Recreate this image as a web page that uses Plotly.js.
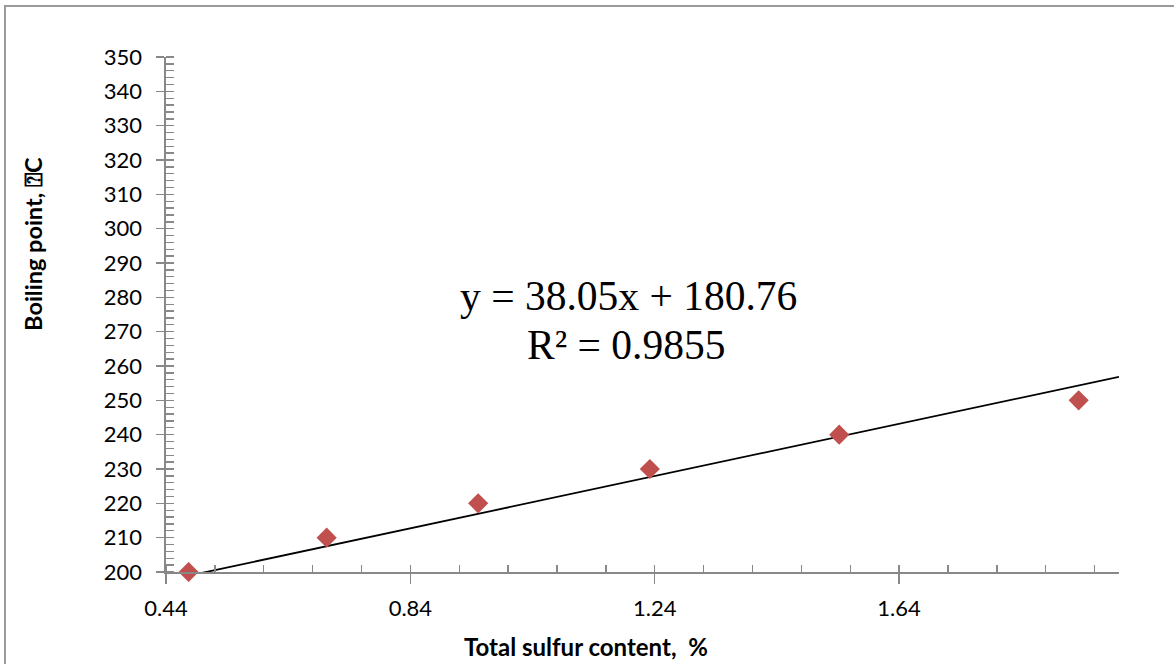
<!DOCTYPE html>
<html>
<head>
<meta charset="utf-8">
<script src="https://cdn.plot.ly/plotly-3.0.1.min.js"></script>
<style>
  html, body { margin: 0; padding: 0; overflow: hidden; background: #fff; }
  #wrap { position: relative; width: 1174px; height: 664px; overflow: hidden; }
  #chart { width: 1174px; height: 664px; }
  #frame { position: absolute; left: 4px; top: 5px; width: 1300px; height: 800px;
           border: 2px solid #9a9a9a; pointer-events: none; z-index: 10; }
</style>
</head>
<body>
<div id="wrap"><div id="chart"></div><div id="frame"></div></div>
<script>
// Data
const sulfurContent = [0.477, 0.703, 0.951, 1.232, 1.542, 1.934];
const boilingPoint = [200, 210, 220, 230, 240, 250];
const trendSlope = 38.05;
const trendIntercept = 180.76;
const xRange = [0.44, 2.0];
const yRange = [200, 350];
const equationText = 'y = 38.05x + 180.76';
const r2Text = 'R\u00B2 = 0.9855';
const xTitle = 'Total sulfur content,  %';
const yTitle = 'Boiling point, \u2370C';

const trendX = xRange.slice();
const trendY = trendX.map(v => trendSlope * v + trendIntercept);

const axisColor = '#888888';
const tickFont = { family: 'Lato, "Open Sans", sans-serif', size: 22, color: '#000' };

const traces = [
  { x: trendX, y: trendY, mode: 'lines', type: 'scatter',
    line: { color: '#000', width: 1.8 }, hoverinfo: 'skip', showlegend: false },
  { x: sulfurContent, y: boilingPoint, mode: 'markers', type: 'scatter',
    marker: { symbol: 'diamond', size: 15.5, color: '#C0504D' },
    cliponaxis: false, showlegend: false },
  { x: [], y: [], xaxis: 'x2', yaxis: 'y2', type: 'scatter', showlegend: false }
];

const layout = {
  width: 1174, height: 664,
  margin: { l: 166, r: 55, t: 57, b: 92 },
  paper_bgcolor: '#fff', plot_bgcolor: '#fff',
  showlegend: false,
  xaxis: {
    range: xRange, tick0: 0.44, dtick: 0.4, tickformat: '.2f',
    showgrid: false, zeroline: false,
    showline: true, linecolor: axisColor, linewidth: 1.6,
    ticks: 'outside', ticklen: 10, tickwidth: 1.4, tickcolor: axisColor,
    ticklabelstandoff: 6,
    tickfont: tickFont,
    minor: { ticks: 'inside', ticklen: 7, tickwidth: 1.4, tickcolor: axisColor, dtick: 0.08, tick0: 0.44, showgrid: false }
  },
  yaxis: {
    range: yRange, tick0: 200, dtick: 10,
    showgrid: false, zeroline: false,
    showline: true, linecolor: axisColor, linewidth: 1.6,
    ticks: 'outside', ticklen: 8, tickwidth: 1.4, tickcolor: axisColor,
    ticklabelstandoff: 10,
    tickfont: tickFont,
    minor: { ticks: 'inside', ticklen: 8, tickwidth: 1.4, tickcolor: axisColor, dtick: 2, showgrid: false }
  },
  xaxis2: {
    overlaying: 'x', anchor: 'y2', range: xRange, tick0: 0.44, dtick: 0.4,
    showgrid: false, zeroline: false, showline: false, showticklabels: false,
    ticks: 'inside', ticklen: 7, tickwidth: 1.4, tickcolor: axisColor, side: 'bottom'
  },
  yaxis2: {
    overlaying: 'y', anchor: 'x2', range: yRange, tick0: 200, dtick: 10,
    showgrid: false, zeroline: false, showline: false, showticklabels: false,
    ticks: 'inside', ticklen: 8, tickwidth: 1.4, tickcolor: axisColor, side: 'left'
  },
  annotations: [
    { text: equationText, xref: 'paper', yref: 'paper', x: 0.4858, y: 0.536,
      xanchor: 'center', yanchor: 'middle', showarrow: false,
      font: { family: '"Liberation Serif", "Times New Roman", serif', size: 41.5, color: '#000' } },
    { text: r2Text, xref: 'paper', yref: 'paper', x: 0.4827, y: 0.4408,
      xanchor: 'center', yanchor: 'middle', showarrow: false,
      font: { family: '"Liberation Serif", "Times New Roman", serif', size: 41.5, color: '#000' } },
    { text: '<b>' + xTitle + '</b>', xref: 'paper', yref: 'paper', x: 0.4407, y: -0.1437,
      xanchor: 'center', yanchor: 'middle', showarrow: false,
      font: { family: 'Lato, "Open Sans", sans-serif', size: 24, color: '#000' } },
    { text: '<b>' + yTitle + '</b>', xref: 'paper', yref: 'paper', x: -0.1396, y: 0.637,
      xanchor: 'center', yanchor: 'middle', showarrow: false, textangle: -90,
      font: { family: 'Lato, "Open Sans", sans-serif', size: 23.5, color: '#000' } }
  ]
};

Plotly.newPlot('chart', traces, layout, { staticPlot: true, displayModeBar: false });
</script>
</body>
</html>
